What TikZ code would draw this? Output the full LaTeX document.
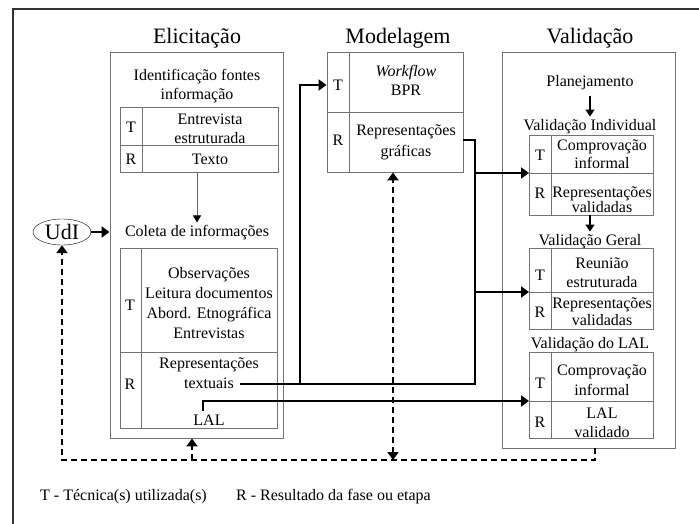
\documentclass[tikz,border=0pt]{standalone}
\usepackage{fontspec}
\setmainfont{Liberation Serif}
\usetikzlibrary{arrows.meta,shapes.geometric}

\begin{document}
\begin{tikzpicture}[x=1pt,y=-1pt]
        \tikzstyle{every node}=[font=\fontsize{16}{19}\selectfont, inner sep=0pt, align=center]
        \tikzstyle{titulo}=[font=\fontsize{22}{26}\selectfont]
        \tikzstyle{caixa}=[draw=black!55, line width=0.9pt]
        \tikzstyle{linha}=[line width=2pt]
        \tikzstyle{seta}=[line width=2pt, -{Triangle[length=8pt,width=11pt]}]
        \tikzstyle{setinha}=[line width=1.4pt, -{Triangle[length=7pt,width=9pt]}]
        \tikzstyle{tracejada}=[line width=2pt, dash pattern=on 6pt off 4pt]
        \useasboundingbox (0,0) rectangle (699,524);
        \draw[line width=1.6pt, black!80] (13,524) -- (13,9) -- (699,9);
        % Elicitacao
        \node[titulo] (tElic) at (197,38) {Elicitação};
        \node[caixa, minimum width=173pt, minimum height=386pt] (elic) at (196.5,245) {};
        \node (ident) at (197,86) {Identificação fontes\\informação};
        \node[caixa, minimum width=158pt, minimum height=65pt] (tab1) at (199,139.5) {};
        \draw[caixa] (120,145) -- (278,145);
        \draw[caixa] (142,107) -- (142,172);
        \node (t1) at (131,127) {T};
        \node (r1) at (131,159) {R};
        \node (t1txt) at (210,129) {Entrevista\\estruturada};
        \node (r1txt) at (210,159) {Texto};
        \node (coleta) at (197,233) {Coleta de informações};
        \draw[black!60, line width=1pt, -{Triangle[length=7pt,width=8pt,color=black]}, shorten >=3pt] (coleta.north |- tab1.south) -- (coleta.north);
        \node[caixa, minimum width=157pt, minimum height=180pt] (tab2) at (198.5,338) {};
        \draw[caixa] (120,352) -- (277,352);
        \draw[caixa] (141,248) -- (141,428);
        \node (t2) at (130,305) {T};
        \node (r2) at (130,384) {R};
        \node[font=\fontsize{16}{20}\selectfont] (t2txt) at (209,303) {Observações\\Leitura documentos\\Abord. Etnográfica\\Entrevistas};
        \node[font=\fontsize{16}{20}\selectfont] (r2txt) at (209,373) {Representações\\textuais};
        \node (lal) at (209,420) {LAL};
        \node[draw, ellipse, minimum width=58pt, minimum height=26pt, font=\fontsize{22}{24}\selectfont] (udi) at (62,232) {UdI};
        \draw[seta] (udi) -- (udi -| elic.west);
        % Modelagem
        \node[titulo] (tMod) at (398,38) {Modelagem};
        \node[caixa, minimum width=136pt, minimum height=120pt] (mod) at (395,112) {};
        \draw[caixa] (327,112) -- (463,112);
        \draw[caixa] (349,52) -- (349,172);
        \node (tM) at (338,85) {T};
        \node (rM) at (338,140) {R};
        \node (tMtxt) at (406,80) {\textit{Workflow}\\BPR};
        \node[font=\fontsize{16}{21}\selectfont] (rMtxt) at (406,142) {Representações\\gráficas};
        % Validacao
        \node[titulo] (tVal) at (590,38) {Validação};
        \node[caixa, minimum width=173pt, minimum height=396pt] (val) at (588.5,250) {};
        \node (plan) at (590,83) {Planejamento};
        \node (vInd) at (590,127) {Validação Individual};
        \draw[setinha, shorten <=6pt, shorten >=3pt] (plan.south) -- (vInd.north);
        \node[caixa, minimum width=124pt, minimum height=80pt] (vi) at (591,175) {};
        \coordinate (viD) at (529,173);
        \draw[caixa] (viD) -- ++(124,0);
        \draw[caixa] (551,135) -- (551,215);
        \node (tVi) at (540,155) {T};
        \node (rVi) at (540,193) {R};
        \node[font=\fontsize{16}{18}\selectfont] (tVitxt) at (602,154) {Comprovação\\informal};
        \node[font=\fontsize{16}{15}\selectfont] (rVitxt) at (602,200) {Representações\\validadas};
        \node (vGer) at (590,242) {Validação Geral};
        \draw[setinha, shorten >=3pt] (vi.south -| vGer) -- (vGer.north);
        \node[caixa, minimum width=124pt, minimum height=81pt] (vg) at (591,288.5) {};
        \coordinate (vgD) at (529,292);
        \draw[caixa] (vgD) -- ++(124,0);
        \draw[caixa] (551,248) -- (551,329);
        \node (tVg) at (540,275) {T};
        \node (rVg) at (540,312) {R};
        \node (tVgtxt) at (602,272.5) {Reunião\\estruturada};
        \node[font=\fontsize{16}{17}\selectfont] (rVgtxt) at (602,311.5) {Representações\\validadas};
        \node (vLal) at (590,345) {Validação do LAL};
        \node[caixa, minimum width=124pt, minimum height=86pt] (vl) at (591,395) {};
        \coordinate (vlD) at (529,401);
        \draw[caixa] (vlD) -- ++(124,0);
        \draw[caixa] (551,352) -- (551,438);
        \node (tVl) at (540,383) {T};
        \node (rVl) at (540,422) {R};
        \node[font=\fontsize{16}{20}\selectfont] (tVltxt) at (602,380) {Comprovação\\informal};
        \node (rVltxt) at (602,422.5) {LAL\\validado};
        % ligacoes
        \coordinate (txtfim) at (240,384);
        \coordinate (nA) at (300,384);
        \coordinate (nB) at (475,384);
        \coordinate (grafR) at (463,140);
        \draw[linha] (txtfim) -- (nB) -- (nB |- grafR) -- (grafR);
        \draw[seta] (nA) -- (nA |- tM) -- (tM -| mod.west);
        \draw[seta] (nB |- viD) -- (viD);
        \draw[seta] (nB |- vgD) -- (vgD);
        \coordinate (lalIni) at (203,411);
        \draw[seta] (lalIni) -- (lalIni |- vlD) -- (vlD);
        % retorno
        \coordinate (vBase) at (595,460);
        \coordinate (eBase) at (192,460);
        \coordinate (mBase) at (393,460);
        \draw[tracejada, -{Triangle[length=8pt,width=11pt]}] (val.south -| vBase) -- (vBase) -- (vBase -| udi) -- (udi.south);
        \draw[tracejada, -{Triangle[length=8pt,width=11pt]}] (eBase) -- (eBase |- elic.south);
        \draw[tracejada, {Triangle[length=8pt,width=11pt]}-{Triangle[length=8pt,width=11pt]}] (mBase) -- (mBase |- mod.south);
        % legenda
        \node[anchor=west] (legT) at (40,497) {T - Técnica(s) utilizada(s)};
        \node[anchor=west] (legR) at (236,497) {R - Resultado da fase ou etapa};
\end{tikzpicture}
\end{document}
